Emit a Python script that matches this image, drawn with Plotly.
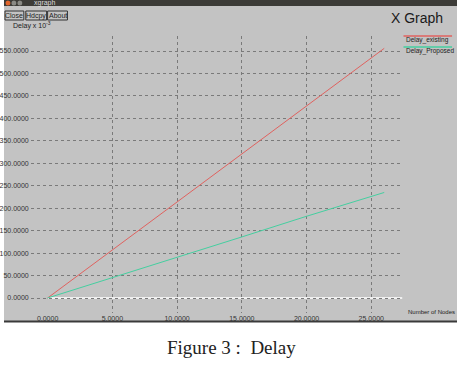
import plotly.graph_objects as go

# ---- data ----
nodes = [0, 5, 10, 15, 20, 26]
delay_existing = [0, 107, 214, 321, 428, 556]
delay_proposed = [0, 45, 91, 136, 182, 235]
series_names = ["Delay_existing", "Delay_Proposed"]
series_colors = ["#e0625f", "#45cfa0"]
x_ticks = [0, 5, 10, 15, 20, 25]
x_tick_labels = ["0.0000", "5.0000", "10.0000", "15.0000", "20.0000", "25.0000"]
y_ticks = [0, 50, 100, 150, 200, 250, 300, 350, 400, 450, 500, 550]
y_tick_labels = ["0.0000", "50.0000", "100.0000", "150.0000", "200.0000", "250.0000",
                 "300.0000", "350.0000", "400.0000", "450.0000", "500.0000", "550.0000"]

W, H = 457, 368
BG = "#c3c3c3"
FONT = "Liberation Sans"


def px(x):
    return x / W


def py(y):
    return 1 - y / H


fig = go.Figure()
for name, vals, col in zip(series_names, [delay_existing, delay_proposed], series_colors):
    fig.add_trace(go.Scatter(x=nodes, y=vals, mode="lines", name=name,
                             line=dict(color=col, width=1), showlegend=False))

X_RANGE = [-1.30, 27.41]
Y_RANGE = [-33.4, 583.5]

shapes = [
    dict(type="rect", xref="paper", yref="paper", x0=0, x1=1, y0=py(321), y1=py(0),
         fillcolor=BG, line=dict(width=0), layer="below"),
    dict(type="rect", xref="paper", yref="paper", x0=0, x1=1, y0=py(6), y1=py(0),
         fillcolor="#3c3b37", line=dict(width=0), layer="below"),
    dict(type="rect", xref="paper", yref="paper", x0=0, x1=1, y0=py(322.5), y1=py(320.5),
         fillcolor="#3a3a3a", line=dict(width=0), layer="above"),
    dict(type="line", xref="x", yref="y", x0=0, x1=X_RANGE[1], y0=0, y1=0,
         line=dict(color="white", width=1.5), layer="below"),
]
for cx, col in [(4, "#e2652b"), (10, "#8a8a85"), (16, "#8a8a85")]:
    shapes.append(dict(type="circle", xref="paper", yref="paper",
                       x0=px(cx - 2.5), x1=px(cx + 2.5), y0=py(5.5), y1=py(0.5),
                       fillcolor=col, line=dict(width=0)))
buttons = [("Close", 1, 20), ("Hdcpy", 22, 43), ("About", 44, 64)]
for _, x0, x1 in buttons:
    shapes.append(dict(type="rect", xref="paper", yref="paper", x0=px(x0), x1=px(x1),
                       y0=py(20), y1=py(11), fillcolor=BG, line=dict(color="#333", width=1)))
leg_y = [36, 47]
for col, yy in zip(series_colors, leg_y):
    shapes.append(dict(type="line", xref="paper", yref="paper", x0=px(403), x1=px(452),
                       y0=py(yy), y1=py(yy), line=dict(color=col, width=1.5)))

annotations = []


def txt(text, x, y, size=7, color="#222", xanchor="left", family=FONT):
    annotations.append(dict(text=text, x=px(x), y=py(y), xref="paper", yref="paper",
                            showarrow=False, xanchor=xanchor, yanchor="middle",
                            font=dict(size=size, color=color, family=family)))


txt("xgraph", 28, 3, size=7, color="#dddddd")
for label, x0, x1 in buttons:
    txt(label, (x0 + x1) / 2, 15.5, size=7, xanchor="center")
txt("Delay x 10<sup>-3</sup>", 7, 26, size=7)
txt("X Graph", 417, 18, size=14, xanchor="center", color="#1a1a1a")
for name, yy in zip(series_names, leg_y):
    txt(name, 404, yy + 4, size=6.5)
txt("Number of Nodes", 406, 312, size=6)
txt("Figure 3 :  Delay", 230, 347, size=19, xanchor="center", color="#222",
    family="Liberation Serif")

fig.update_layout(
    width=W, height=H,
    margin=dict(l=0, r=0, t=0, b=0),
    paper_bgcolor="white",
    plot_bgcolor="rgba(0,0,0,0)",
    showlegend=False,
    shapes=shapes,
    annotations=annotations,
    xaxis=dict(domain=[px(27), px(402)], range=X_RANGE, tickvals=x_ticks, ticktext=x_tick_labels,
               showgrid=True, gridcolor="#7a7a7a", griddash="dot", gridwidth=1,
               zeroline=True, zerolinecolor=BG, zerolinewidth=1,
               showline=False, ticks="", ticklabelstandoff=0,
               tickfont=dict(size=7, color="#333", family=FONT), fixedrange=True),
    yaxis=dict(domain=[py(313), py(36)], range=Y_RANGE, tickvals=y_ticks, ticktext=y_tick_labels,
               showgrid=True, gridcolor="#7a7a7a", griddash="dot", gridwidth=1,
               zeroline=False, showline=False, ticks="", ticklabelstandoff=1,
               tickfont=dict(size=7, color="#333", family=FONT), fixedrange=True),
)

fig.write_html("out.html")
